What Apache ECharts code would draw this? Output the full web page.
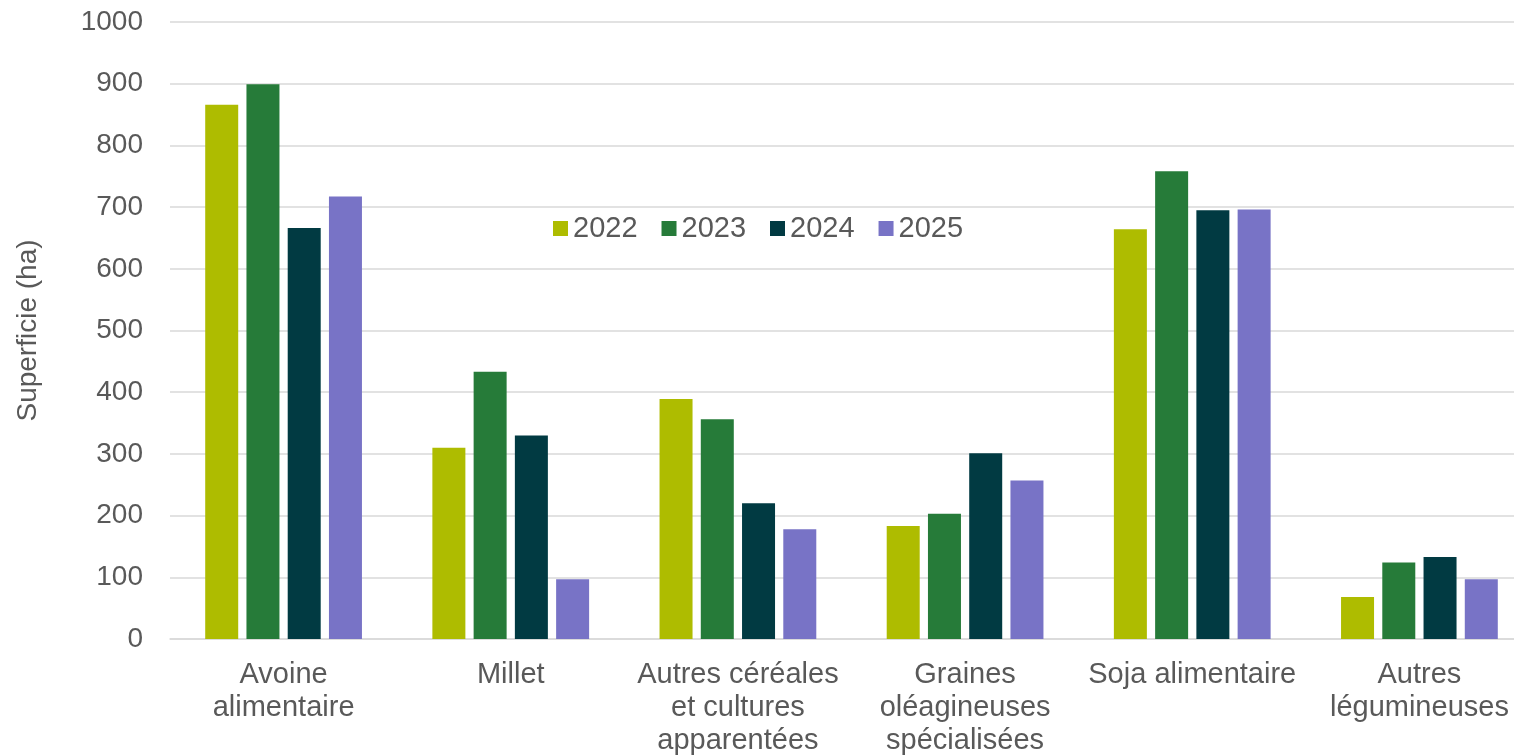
<!DOCTYPE html>
<html>
<head>
<meta charset="utf-8">
<script src="https://cdn.jsdelivr.net/npm/echarts@6/dist/echarts.min.js"></script>
<style>
html,body{margin:0;padding:0;background:#fff;overflow:hidden;}
#chart{width:1514px;height:756px;}
</style>
</head>
<body>
<div id="chart"></div>
<script>
const categories = ["Avoine\nalimentaire", "Millet", "Autres céréales\net cultures\napparentées", "Graines\noléagineuses\nspécialisées", "Soja alimentaire", "Autres\nlégumineuses"];
const years = ["2022", "2023", "2024", "2025"];
const values2022 = [866, 310, 389, 183, 664, 68];
const values2023 = [899, 433, 356, 203, 758, 124];
const values2024 = [666, 330, 220, 301, 695, 133];
const values2025 = [717, 97, 178, 257, 696, 97];
const colors = ["#AEBC00", "#267B39", "#013A42", "#7873C6"];

const seriesData = [values2022, values2023, values2024, values2025];
const font = "Liberation Sans, Arial, sans-serif";
const textColor = "#595959";

const chart = echarts.init(document.getElementById('chart'));
chart.setOption({
  animation: false,
  color: colors,
  textStyle: { fontFamily: font },
  grid: { left: 170, width: 1363, top: 22, bottom: 117, containLabel: false, outerBoundsMode: 'none' },
  legend: {
    left: 548, top: 209,
    itemWidth: 15, itemHeight: 15, itemGap: 24,
    icon: 'rect',
    textStyle: { fontSize: 29, color: textColor, fontFamily: font },
    data: years
  },
  xAxis: {
    type: 'category',
    data: categories,
    axisTick: { show: false },
    axisLine: { lineStyle: { color: '#d9d9d9', width: 1.5 } },
    axisLabel: { fontSize: 29, lineHeight: 33, color: textColor, margin: 19, interval: 0, fontFamily: font }
  },
  yAxis: {
    type: 'value',
    min: 0, max: 1000, interval: 100,
    name: 'Superficie (ha)',
    nameLocation: 'middle',
    nameGap: 128,
    nameTextStyle: { fontSize: 28, color: textColor, fontFamily: font },
    axisLine: { show: false },
    axisTick: { show: false },
    splitLine: { lineStyle: { color: '#d9d9d9', width: 1.5 } },
    axisLabel: { fontSize: 28, color: textColor, margin: 27, fontFamily: font, formatter: v => String(v) }
  },
  series: years.map((y, i) => ({
    name: y,
    type: 'bar',
    data: seriesData[i],
    barGap: '25%',
    barCategoryGap: '31%'
  }))
});
</script>
</body>
</html>
